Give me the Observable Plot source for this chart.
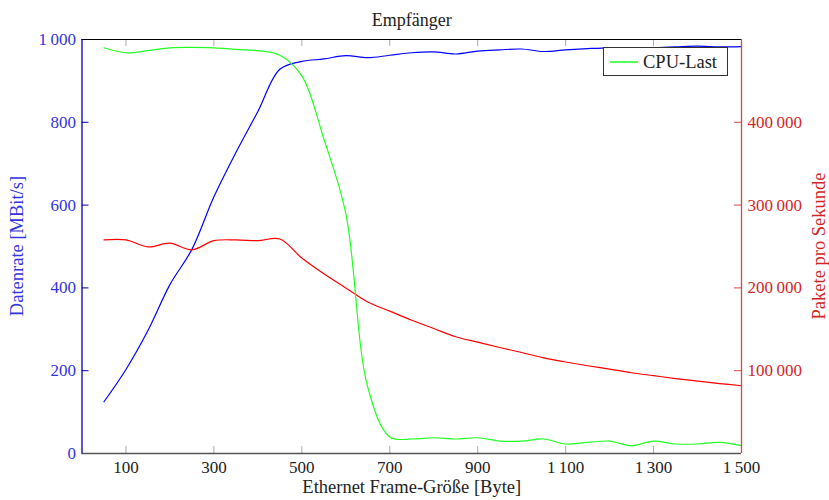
<!DOCTYPE html>
<html>
<head>
<meta charset="utf-8">
<script src="https://cdn.jsdelivr.net/npm/d3@7"></script>
<script src="https://cdn.jsdelivr.net/npm/@observablehq/plot@0.6"></script>
<style>
  html, body { margin: 0; padding: 0; background: #fff; }
</style>
</head>
<body>
<div id="chart"></div>
<script>
// Ethernet frame sizes [Byte]
const frameSizes = [50, 100, 150, 200, 250, 300, 350, 400, 450, 500, 550, 600, 650, 700, 750,
  800, 850, 900, 950, 1000, 1050, 1100, 1150, 1200, 1250, 1300, 1350, 1400, 1450, 1500];
// Datenrate [MBit/s]
const datenrate = [125, 203, 297, 408, 493, 620, 727, 826, 928, 947, 953, 961, 956, 962, 968,
  970, 965, 972, 975, 977, 971, 975, 978, 980, 979, 980, 982, 984, 982, 983];
// Pakete pro Sekunde
const pakete = [258000, 258000, 249500, 254000, 246000, 257000, 258000, 257000, 259000, 236000,
  217000, 200000, 183000, 172000, 161000, 151000, 141000, 134500, 128000, 122000,
  115500, 110500, 106000, 102000, 97500, 94000, 90500, 87500, 84500, 81800];
// CPU-Last [%]
const cpuLast = [98.0, 96.8, 97.3, 98.0, 98.1, 98.0, 97.6, 97.3, 96.2, 91.2, 76.0, 58.0, 16.0, 4.0, 3.5,
  3.8, 3.5, 3.8, 3.0, 3.0, 3.5, 2.3, 2.7, 3.0, 1.9, 3.0, 2.3, 2.3, 2.7, 1.9];

const xTicks = [100, 300, 500, 700, 900, 1100, 1300, 1500];
const leftTicks = [0, 200, 400, 600, 800, 1000];
const rightTicks = [100000, 200000, 300000, 400000];

const table = frameSizes.map((s, i) => ({size: s, rate: datenrate[i], pps: pakete[i], cpu: cpuLast[i]}));

const ppsFactor = 500;   // 500 000 pps spans the same height as 1000 MBit/s
const cpuFactor = 10;    // 100 % spans the same height as 1000 MBit/s

const fmt = d3.formatLocale({decimal: ".", thousands: "\u2009", grouping: [3], currency: ["", ""]}).format(",");

const BLUE_TXT = "#3434dc", BLUE_AX = "#0000b4";
const RED_TXT = "#d42626", RED_AX = "#d04848";
const GREEN = "#22ff22";
const FONT = "'Liberation Serif', 'DejaVu Serif', serif";

const chart = Plot.plot({
  width: 829,
  height: 500,
  marginLeft: 81.5,
  marginRight: 88,
  marginTop: 39,
  marginBottom: 47,
  style: {fontFamily: FONT, fontSize: "17px", background: "#fff", color: "#222"},
  x: {domain: [0, 1500]},
  y: {domain: [0, 1000]},
  marks: [
    // inner tick marks
    Plot.ruleX(xTicks, {x: d => d, stroke: "#aaa", strokeWidth: 1, insetTop: 407}),
    Plot.ruleX(xTicks, {x: d => d, stroke: "#aaa", strokeWidth: 1, insetBottom: 407}),
    Plot.ruleY(leftTicks, {y: d => d, stroke: BLUE_AX, strokeWidth: 1, insetRight: 652.5}),
    Plot.ruleY(rightTicks, {y: d => d / ppsFactor, stroke: RED_AX, strokeWidth: 1, insetLeft: 652.5}),
    // data
    Plot.line(table, {x: "size", y: "rate", stroke: "#0000ff", strokeWidth: 1.2, curve: "catmull-rom"}),
    Plot.line(table, {x: "size", y: d => d.pps / ppsFactor, stroke: "#ff0000", strokeWidth: 1.2, curve: "catmull-rom"}),
    Plot.line(table, {x: "size", y: d => d.cpu * cpuFactor, stroke: GREEN, strokeWidth: 1.2, curve: "catmull-rom"}),
    // frame
    Plot.ruleY([1000], {stroke: "#000", strokeWidth: 1.2}),
    Plot.ruleY([0], {stroke: "#555", strokeWidth: 1.4}),
    Plot.ruleX([0], {stroke: BLUE_AX, strokeWidth: 1.3}),
    Plot.ruleX([1500], {stroke: RED_AX, strokeWidth: 1.3}),
    // axes
    Plot.axisX(xTicks, {tickSize: 0, tickPadding: 7, tickFormat: fmt, fill: "#222", label: null}),
    Plot.axisY(leftTicks, {anchor: "left", tickSize: 0, tickPadding: 6, tickFormat: fmt, fill: BLUE_TXT, label: null}),
    Plot.axisY(rightTicks.map(d => d / ppsFactor), {anchor: "right", tickSize: 0, tickPadding: 6, tickFormat: d => fmt(d * ppsFactor), fill: RED_TXT, label: null}),
    // titles
    Plot.text(["Empfänger"], {text: d => d, frameAnchor: "top", dy: -26, fill: "#222", fontSize: 18}),
    Plot.text(["Ethernet Frame-Größe [Byte]"], {text: d => d, frameAnchor: "bottom", dy: 39, fill: "#222", fontSize: 18.5})
  ]
});

// rotated axis titles and legend
const svg = d3.select(chart);
svg.append("text")
  .attr("transform", "translate(17,246) rotate(-90)")
  .attr("text-anchor", "middle").attr("dy", "0.32em")
  .attr("font-family", FONT).attr("font-size", 18.5).attr("fill", BLUE_TXT)
  .text("Datenrate [MBit/s]");
svg.append("text")
  .attr("transform", "translate(819,246) rotate(-90)")
  .attr("text-anchor", "middle").attr("dy", "0.32em")
  .attr("font-family", FONT).attr("font-size", 18.5).attr("fill", RED_TXT)
  .text("Pakete pro Sekunde");

const lg = svg.append("g");
lg.append("rect").attr("x", 603.5).attr("y", 47.5).attr("width", 124).attr("height", 28)
  .attr("fill", "#fff").attr("stroke", "#333").attr("stroke-width", 1);
lg.append("line").attr("x1", 610).attr("x2", 638).attr("y1", 62).attr("y2", 62)
  .attr("stroke", GREEN).attr("stroke-width", 1.5);
lg.append("text").attr("x", 643).attr("y", 62).attr("dy", "0.32em")
  .attr("text-anchor", "start").attr("font-family", FONT)
  .attr("fill", "#222").attr("font-size", 18.5).text("CPU-Last");

document.getElementById("chart").appendChild(chart);
</script>
</body>
</html>
